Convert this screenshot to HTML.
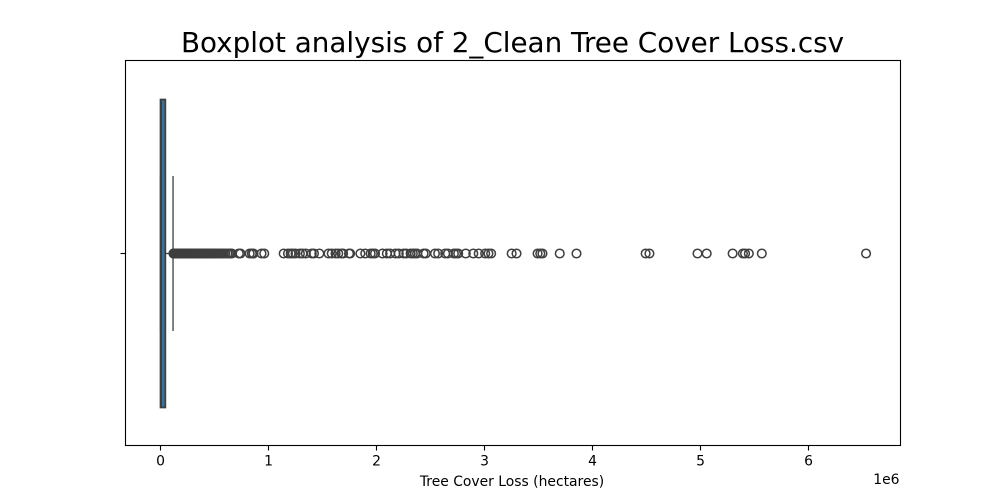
<!DOCTYPE html>
<html>
<head>
<meta charset="utf-8">
<style>
html,body{margin:0;padding:0;background:#fff;}
svg{display:block;}
text{font-family:"DejaVu Sans","Liberation Sans",sans-serif;fill:#000;}
</style>
</head>
<body>
<svg id="chart" width="1000" height="500" viewBox="0 0 1000 500" xmlns="http://www.w3.org/2000/svg">
  <rect x="0" y="0" width="1000" height="500" fill="#fff"/>
  <text x="512.5" y="52" font-size="27.8" text-anchor="middle">Boxplot analysis of 2_Clean Tree Cover Loss.csv</text>
  <g id="marks"></g>
  <rect x="125.5" y="60.5" width="775" height="385" fill="none" stroke="#000" stroke-width="1.1"/>
  <g id="axis"></g>
  <line x1="120.5" y1="253.5" x2="125.5" y2="253.5" stroke="#000" stroke-width="1.1"/>
  <text x="512" y="486" font-size="13.9" text-anchor="middle">Tree Cover Loss (hectares)</text>
  <text x="899.5" y="484" font-size="13.9" text-anchor="end">1e6</text>
</svg>
<script>
var tickValues = [0, 1, 2, 3, 4, 5, 6];
var tickLabels = ["0", "1", "2", "3", "4", "5", "6"];
var boxStats = [0.0, 0.006, 0.045];
var whiskers = [0.0, 0.116];
var outliers = [
  0.12,0.122,0.125,0.128,0.13,0.133,0.136,0.14,0.143,0.147,0.15,0.154,0.158,0.162,0.166,0.17,0.174,0.178,0.182,0.186,
  0.19,0.195,0.2,0.205,0.21,0.215,0.22,0.225,0.23,0.235,0.24,0.245,0.25,0.255,0.26,0.266,0.272,0.278,0.284,0.29,
  0.296,0.302,0.308,0.315,0.322,0.33,0.337,0.345,0.352,0.36,0.368,0.376,0.385,0.393,0.4,0.41,0.42,0.43,0.44,0.45,
  0.46,0.47,0.48,0.49,0.5,0.515,0.53,0.54,0.555,0.57,0.585,0.6,0.62,0.635,0.65,0.66,
  0.725,0.74,0.825,0.845,0.86,0.935,0.96,
  1.14,1.18,1.205,1.225,1.25,1.29,1.315,1.345,1.4,1.42,1.47,1.555,1.585,1.62,1.645,1.675,1.69,1.745,1.755,
  1.85,1.895,1.945,1.965,1.985,2.055,2.095,2.125,2.175,2.205,2.25,2.275,2.315,2.335,2.355,2.375,2.435,2.455,
  2.54,2.57,2.635,2.66,2.715,2.735,2.755,2.825,2.895,2.945,3.005,3.035,3.06,
  3.25,3.295,3.49,3.515,3.535,3.695,3.85,4.49,4.525,4.97,5.055,5.295,5.39,5.41,5.445,5.565,6.53
];

var svgNS = "http://www.w3.org/2000/svg";
var marks = document.getElementById("marks");
var axis = document.getElementById("axis");
var plot = { left: 125.5, right: 900.5, top: 60.5, bottom: 445.5, midY: 253.5 };
var boxHalf = 154;
var capHalf = 77.5;
var edge = "#3f3f3f";

function xScale(v) { return 160.5 + v * 108.05; }

function make(tag, attrs, parent) {
  var el = document.createElementNS(svgNS, tag);
  for (var k in attrs) { el.setAttribute(k, attrs[k]); }
  parent.appendChild(el);
  return el;
}

tickValues.forEach(function (v, i) {
  var x = Math.round(xScale(v) - 0.5) + 0.5;
  var t = make("line", { x1: x, x2: x, y1: plot.bottom, y2: plot.bottom + 5, stroke: "#000", "stroke-width": 1.1 }, axis);
  
  
  var l = make("text", { x: x, y: plot.bottom + 20, "font-size": 13.9, "text-anchor": "middle" }, axis);
  l.textContent = tickLabels[i];
  
  
});

var box = make("rect", {
  x: xScale(boxStats[0]),
  y: plot.midY - boxHalf,
  width: xScale(boxStats[2]) - xScale(boxStats[0]),
  height: boxHalf * 2,
  fill: "#3274a1",
  stroke: edge,
  "stroke-width": 1.7
}, marks);



var median = make("line", {
  x1: xScale(boxStats[1]), x2: xScale(boxStats[1]),
  y1: plot.midY - boxHalf, y2: plot.midY + boxHalf,
  stroke: edge, "stroke-width": 1.7
}, marks);



var whiskerLow = make("line", {
  x1: xScale(whiskers[0]), x2: xScale(boxStats[0]),
  y1: plot.midY, y2: plot.midY, stroke: edge, "stroke-width": 1.3
}, marks);



var whiskerHigh = make("line", {
  x1: xScale(boxStats[2]), x2: xScale(whiskers[1]),
  y1: plot.midY, y2: plot.midY, stroke: edge, "stroke-width": 1.3
}, marks);



var capLow = make("line", {
  x1: xScale(whiskers[0]), x2: xScale(whiskers[0]),
  y1: plot.midY - capHalf, y2: plot.midY + capHalf, stroke: edge, "stroke-width": 1.3
}, marks);



var capHigh = make("line", {
  x1: xScale(whiskers[1]), x2: xScale(whiskers[1]),
  y1: plot.midY - capHalf, y2: plot.midY + capHalf, stroke: edge, "stroke-width": 1.3
}, marks);



outliers.forEach(function (v) {
  var c = make("circle", {
    cx: xScale(v), cy: plot.midY, r: 4.3,
    fill: "none", stroke: edge, "stroke-width": 1.5
  }, marks);
  
  
});
</script>
</body>
</html>
